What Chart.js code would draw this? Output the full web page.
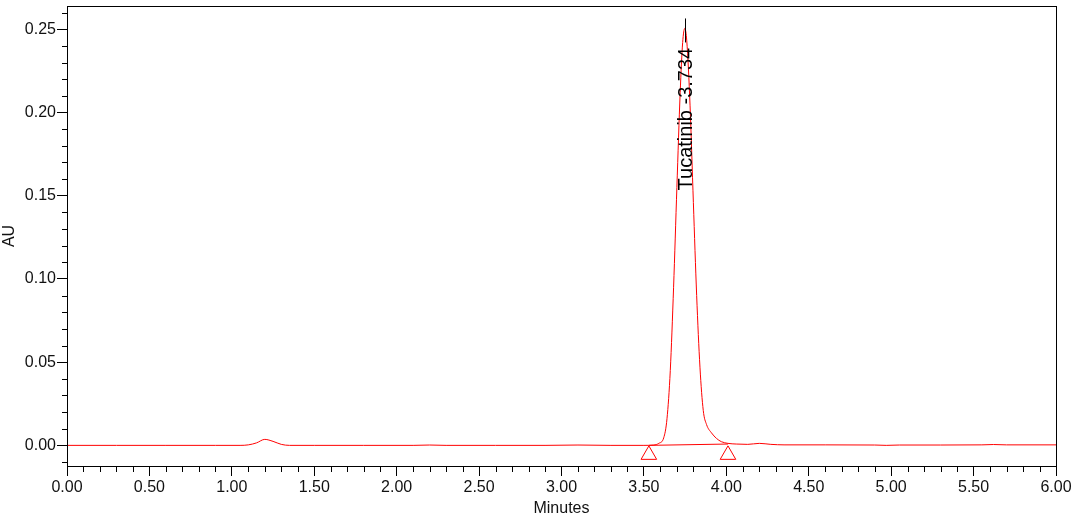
<!DOCTYPE html>
<html>
<head>
<meta charset="utf-8">
<title>Tucatinib chromatogram</title>
<script src="https://cdn.jsdelivr.net/npm/chart.js@4"></script>
<style>
  html, body { margin: 0; padding: 0; background: #fff; }
  #wrap { width: 1078px; height: 518px; }
</style>
</head>
<body>
<div id="wrap"><canvas id="chromChart" width="1078" height="518"></canvas></div>
<script>
// Detector trace (minutes, AU)
const times = [0, 0.3, 0.6, 0.9, 1.05, 1.1, 1.15, 1.2, 1.25, 1.3, 1.35, 1.5, 1.8, 2.1, 2.2, 2.3, 2.6, 2.9, 3.1, 3.3, 3.5,
  3.56, 3.59, 3.62, 3.64, 3.66, 3.68, 3.70, 3.72, 3.735, 3.748, 3.76, 3.78, 3.80, 3.82, 3.84, 3.86, 3.88, 3.91, 3.94, 3.97,
  4.01, 4.06, 4.13, 4.2, 4.27, 4.35, 4.6, 4.9, 4.97, 5.05, 5.3, 5.55, 5.62, 5.7, 6.0];
const au = [0, 0, 0, 0, 0, 0.0003, 0.0015, 0.0036, 0.0024, 0.0006, 0, 0, 0, 0, 0.0002, 0, 0, 0, 0.0002, 0, 0,
  0.0002, 0.0012, 0.0045, 0.016, 0.045, 0.095, 0.155, 0.212, 0.242, 0.2505, 0.243, 0.204, 0.146, 0.090, 0.047, 0.021, 0.0125, 0.0075, 0.0042, 0.0022,
  0.0012, 0.0008, 0.0006, 0.0012, 0.0006, 0.0003, 0.0003, 0.0002, 0, 0.0002, 0.0002, 0.0003, 0.0005, 0.0003, 0.0003];

// integration baseline and its start/end markers
const baseTimes = [3.53, 4.01];
const baseAU = [0.0, 0.0008];
const markerAU = [-0.0057, -0.0057];

// peak label
const peakName = "Tucatinib";
const peakRT = "3.734";

// axes
const xTicks = [0, 0.5, 1, 1.5, 2, 2.5, 3, 3.5, 4, 4.5, 5, 5.5, 6];
const yTicks = [0, 0.05, 0.10, 0.15, 0.20, 0.25];
const xMin = 0, xMax = 6;
const yMin = -0.0124, yMax = 0.264;

const textColor = "#111";
const fontFamily = "Arial, 'Liberation Sans', sans-serif";

const pts = (xs, ys) => xs.map((x, i) => ({ x: x, y: ys[i] }));

// frame, minor ticks and peak annotation
const chromPlugin = {
  id: "chromPlugin",
  afterDraw(chart) {
    const ctx = chart.ctx;
    const area = chart.chartArea;
    const xs = chart.scales.x;
    const ys = chart.scales.y;
    ctx.save();
    ctx.strokeStyle = "#000";
    ctx.lineWidth = 1;
    ctx.strokeRect(Math.round(area.left) + 0.5, Math.round(area.top) + 0.5,
      Math.round(area.right - area.left), Math.round(area.bottom - area.top));

    // minor ticks
    ctx.beginPath();
    for (let i = -1; i <= 26; i++) {
      if (i % 5 === 0) continue;
      const py = Math.round(ys.getPixelForValue(i / 100)) + 0.5;
      ctx.moveTo(area.left - 5, py);
      ctx.lineTo(area.left, py);
    }
    for (let i = 0; i <= 60; i++) {
      if (i % 5 === 0) continue;
      const px = Math.round(xs.getPixelForValue(i / 10)) + 0.5;
      ctx.moveTo(px, area.bottom);
      ctx.lineTo(px, area.bottom + 6);
    }
    ctx.stroke();

    // apex marker + label
    let k = 0;
    au.forEach((v, i) => { if (v > au[k]) k = i; });
    const ax = Math.round(xs.getPixelForValue(times[k])) + 0.5;
    const ay = ys.getPixelForValue(au[k]);
    ctx.beginPath();
    ctx.moveTo(ax, ay - 10);
    ctx.lineTo(ax, ay + 14);
    ctx.stroke();

    ctx.translate(ax + 6, ay + 162);
    ctx.rotate(-Math.PI / 2);
    ctx.fillStyle = "#000";
    ctx.font = "20px " + fontFamily;
    ctx.textAlign = "left";
    ctx.textBaseline = "alphabetic";
    ctx.fillText(peakName + " -" + peakRT, 0, 0);
    ctx.restore();
  },
};

const ctx = document.getElementById("chromChart").getContext("2d");
new Chart(ctx, {
  type: "line",
  data: {
    datasets: [
      {
        label: "trace",
        data: pts(times, au),
        borderColor: "#ff0000",
        borderWidth: 1,
        pointRadius: 0,
        fill: false,
        cubicInterpolationMode: "monotone",
      },
      {
        label: "baseline",
        data: pts(baseTimes, baseAU),
        borderColor: "#ff0000",
        borderWidth: 1,
        pointRadius: 0,
        fill: false,
      },
      {
        label: "markers",
        data: pts(baseTimes, markerAU),
        showLine: false,
        pointStyle: "triangle",
        pointRadius: 9,
        pointBorderColor: "#ff0000",
        pointBackgroundColor: "rgba(255,255,255,0)",
        pointBorderWidth: 1,
      },
    ],
  },
  options: {
    responsive: false,
    animation: false,
    devicePixelRatio: 1,
    layout: { autoPadding: false, padding: { top: 6, right: 22, left: 0, bottom: 0 } },
    plugins: {
      legend: { display: false },
      tooltip: { enabled: false },
    },
    scales: {
      x: {
        type: "linear",
        min: xMin,
        max: xMax,
        afterBuildTicks: (scale) => { scale.ticks = xTicks.map((v) => ({ value: v })); },
        afterFit: (scale) => { scale.height = 52; },
        ticks: {
          autoSkip: false,
          maxRotation: 0,
          padding: 2,
          color: textColor,
          font: { family: fontFamily, size: 16 },
          callback: (v) => Number(v).toFixed(2),
        },
        grid: { drawOnChartArea: false, tickLength: 10, color: "#000", tickColor: "#000" },
        border: { color: "#000", width: 1 },
        title: {
          display: true,
          text: "Minutes",
          color: textColor,
          padding: 0,
          font: { family: fontFamily, size: 16 },
        },
      },
      y: {
        type: "linear",
        min: yMin,
        max: yMax,
        afterBuildTicks: (scale) => { scale.ticks = yTicks.map((v) => ({ value: v })); },
        afterFit: (scale) => {
          scale.width = 67;
          scale.paddingTop = 0;
          scale.paddingBottom = 0;
        },
        ticks: {
          autoSkip: false,
          padding: 1,
          color: textColor,
          font: { family: fontFamily, size: 16 },
          callback: (v) => Number(v).toFixed(2),
        },
        grid: { drawOnChartArea: false, tickLength: 10, color: "#000", tickColor: "#000" },
        border: { color: "#000", width: 1 },
        title: {
          display: true,
          text: "AU",
          color: textColor,
          padding: 0,
          font: { family: fontFamily, size: 16 },
        },
      },
    },
  },
  plugins: [chromPlugin],
});
</script>
</body>
</html>
